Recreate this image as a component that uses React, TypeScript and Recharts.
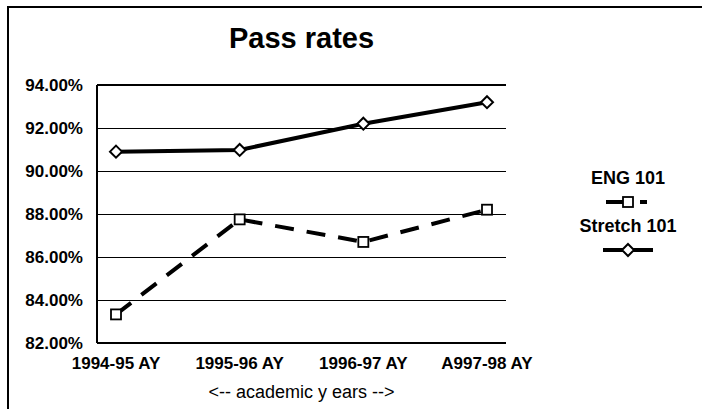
import { LineChart, Line, XAxis, YAxis, CartesianGrid, Legend, ReferenceLine } from "recharts";

const years = ["1994-95 AY", "1995-96 AY", "1996-97 AY", "A997-98 AY"];
const eng101 = [83.33, 87.75, 86.7, 88.2];
const stretch101 = [90.9, 90.98, 92.2, 93.2];
const yTicks = [82, 84, 86, 88, 90, 92, 94];

const data = years.map((name, i) => ({ name, eng: eng101[i], stretch: stretch101[i] }));

const font = "'Liberation Sans', Arial, sans-serif";

function Diamond(props: any) {
  const { cx, cy } = props;
  if (cx == null || cy == null) return null;
  return (
    <polygon
      points={`${cx},${cy - 6} ${cx + 6},${cy} ${cx},${cy + 6} ${cx - 6},${cy}`}
      fill="#fff"
      stroke="#000"
      strokeWidth={2}
    />
  );
}

function Square(props: any) {
  const { cx, cy } = props;
  if (cx == null || cy == null) return null;
  return <rect x={cx - 5} y={cy - 5} width={10} height={10} fill="#fff" stroke="#000" strokeWidth={1.8} />;
}

function LegendBox(props: any) {
  const items = props.payload || [];
  return (
    <div style={{ width: 130, textAlign: "center", fontFamily: font, fontWeight: "bold", fontSize: 18 }}>
      {items.map((it: any) => (
        <div key={it.value}>
          <div style={{ height: 24, lineHeight: "24px" }}>{it.value}</div>
          <svg width={60} height={24} style={{ display: "block", margin: "0 auto" }}>
            {it.dataKey === "eng" ? (
              <g>
                <line x1={8} y1={12} x2={25} y2={12} stroke="#000" strokeWidth={4} />
                <line x1={42} y1={12} x2={49} y2={12} stroke="#000" strokeWidth={4} />
                <rect x={25} y={7} width={10} height={10} fill="#fff" stroke="#000" strokeWidth={1.8} />
              </g>
            ) : (
              <g>
                <line x1={5} y1={12} x2={55} y2={12} stroke="#000" strokeWidth={4} />
                <polygon points="30,6 36,12 30,18 24,12" fill="#fff" stroke="#000" strokeWidth={2} />
              </g>
            )}
          </svg>
        </div>
      ))}
    </div>
  );
}

export default function App() {
  return (
    <div style={{ position: "absolute", left: 0, top: 0, width: 702, height: 409, overflow: "hidden", background: "#fff" }}>
      <div style={{ position: "absolute", left: 7, top: 6, width: 800, height: 500, borderTop: "2px solid #000", borderLeft: "2px solid #000" }} />
      <div style={{ position: "absolute", left: 97, width: 409, top: 22, textAlign: "center", fontFamily: font, fontWeight: "bold", fontSize: 29 }}>
        Pass rates
      </div>
      <div style={{ position: "absolute", left: 97, width: 409, top: 382, textAlign: "center", fontFamily: font, fontSize: 18 }}>
        {"<-- academic y ears -->"}
      </div>
      <div style={{ position: "absolute", left: 0, top: 0 }}>
        <LineChart width={702} height={409} data={data} margin={{ top: 85, right: 66, left: 0, bottom: 36 }}>
          <CartesianGrid vertical={false} stroke="#000" strokeWidth={1} shapeRendering="crispEdges" />
          <XAxis
            dataKey="name"
            padding={{ left: 19, right: 19 }}
            height={30}
            tickLine={false}
            tickMargin={8}
            axisLine={{ stroke: "#000", strokeWidth: 2 }}
            tick={{ fill: "#000", fontSize: 17, fontWeight: "bold", fontFamily: font }}
          />
          <YAxis
            domain={[82, 94]}
            ticks={yTicks}
            width={97}
            tickLine={false}
            tickMargin={8}
            axisLine={{ stroke: "#000", strokeWidth: 2 }}
            tickFormatter={(v: number) => v.toFixed(2) + "%"}
            tick={{ fill: "#000", fontSize: 17, fontWeight: "bold", fontFamily: font }}
          />
          <YAxis yAxisId="r" orientation="right" width={0} tick={false} tickLine={false} axisLine={{ stroke: "#000", strokeWidth: 2 }} />
          <ReferenceLine y={94} stroke="#000" strokeWidth={2} />
          <Legend
            layout="vertical"
            align="right"
            verticalAlign="middle"
            content={<LegendBox />}
            wrapperStyle={{ position: "absolute", left: 563, top: 166, width: 130 }}
          />
          <Line
            dataKey="eng"
            name="ENG 101"
            stroke="#000"
            strokeWidth={4}
            strokeDasharray="19 13"
            dot={<Square />}
            isAnimationActive={false}
          />
          <Line
            dataKey="stretch"
            name="Stretch 101"
            stroke="#000"
            strokeWidth={4}
            dot={<Diamond />}
            isAnimationActive={false}
          />
        </LineChart>
      </div>
    </div>
  );
}
